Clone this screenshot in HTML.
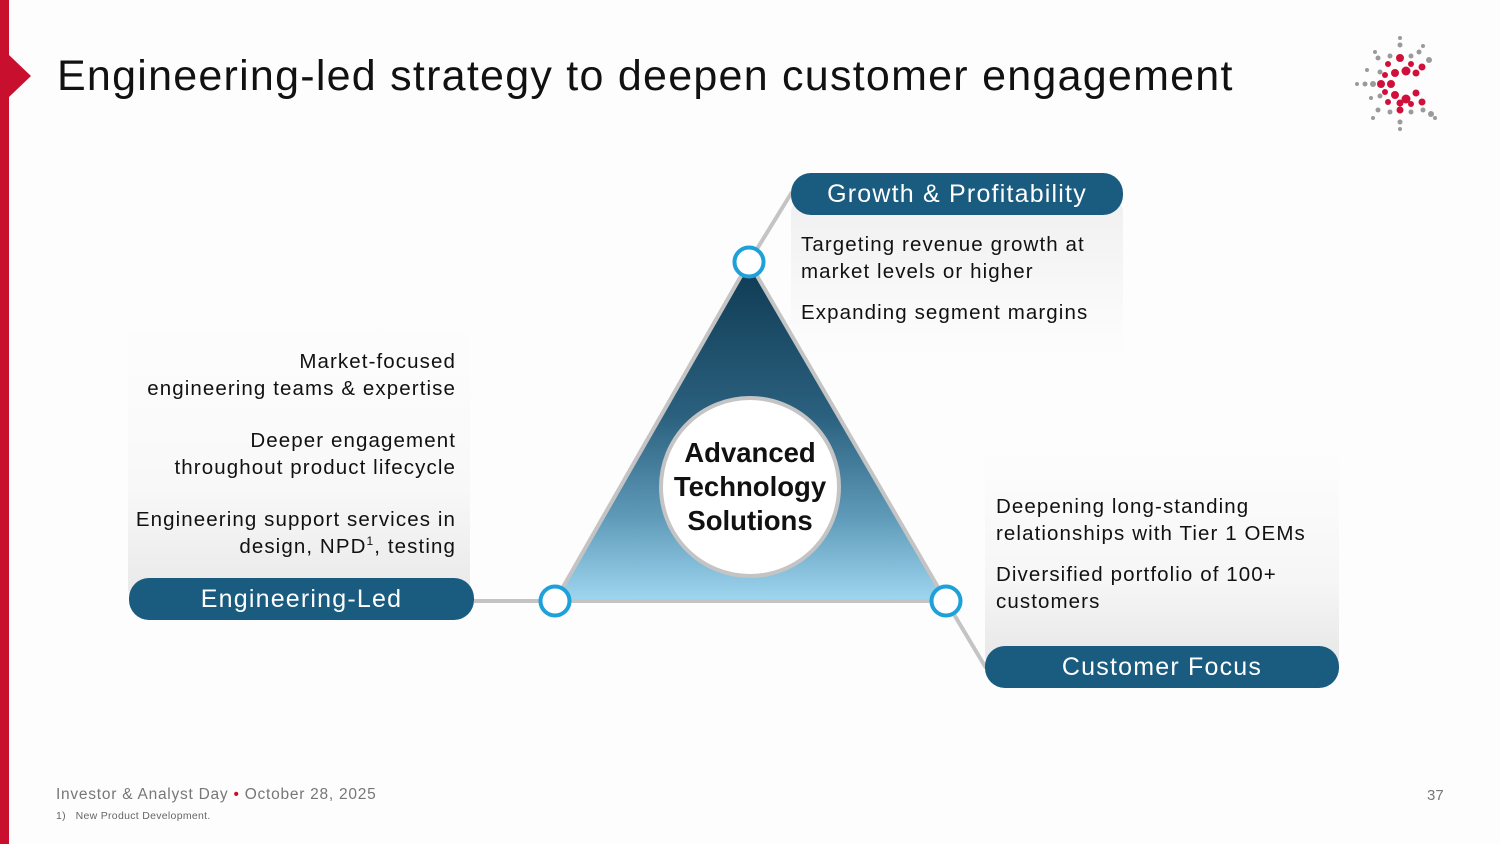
<!DOCTYPE html>
<html><head><meta charset="utf-8"><style>
body{margin:0;width:1500px;height:844px;background:#fdfdfd;overflow:hidden;position:relative;font-family:"Liberation Sans",sans-serif;}
.abs{position:absolute;}
.pill{position:absolute;background:#1a5b80;color:#fff;border-radius:20px;font-size:25px;text-align:center;line-height:42px;height:42px;letter-spacing:1.2px;}
.txt{position:absolute;font-size:20.5px;color:#111;line-height:27px;letter-spacing:1.1px;}
</style></head><body>
<div class="abs" style="left:0;top:0;width:9px;height:844px;background:#c8102e"></div>
<div class="abs" style="left:9px;top:55px;width:0;height:0;border-top:21px solid transparent;border-bottom:21px solid transparent;border-left:22px solid #c8102e"></div>
<div class="abs" style="left:57px;top:52px;font-size:43px;color:#111;letter-spacing:1.25px">Engineering-led strategy to deepen customer engagement</div>

<svg class="abs" style="left:1345px;top:30px" width="100" height="110" viewBox="0 0 100 110">
<g fill="#9a9a9a">
<circle cx="55" cy="8" r="2"/><circle cx="55" cy="15" r="2.5"/><circle cx="55" cy="92" r="2.5"/><circle cx="55" cy="99" r="2"/>
<circle cx="12" cy="54" r="2"/><circle cx="20" cy="54" r="2.5"/><circle cx="28" cy="54" r="3"/>
<circle cx="30" cy="22" r="2"/><circle cx="33" cy="28" r="2.5"/><circle cx="78" cy="16" r="2"/><circle cx="74" cy="22" r="2.5"/>
<circle cx="84" cy="30" r="3"/><circle cx="86" cy="84" r="3"/><circle cx="78" cy="80" r="2.5"/><circle cx="33" cy="80" r="2.5"/>
<circle cx="28" cy="88" r="2"/><circle cx="22" cy="40" r="2"/><circle cx="26" cy="68" r="2"/><circle cx="35" cy="66" r="2.5"/><circle cx="35" cy="42" r="2.5"/>
<circle cx="45" cy="26" r="2.5"/><circle cx="45" cy="82" r="2.5"/><circle cx="66" cy="82" r="2.5"/><circle cx="66" cy="26" r="2.5"/><circle cx="90" cy="88" r="2"/>
</g>
<g fill="#d0103a">
<circle cx="55" cy="28" r="4"/><circle cx="43" cy="34" r="3"/><circle cx="66" cy="34" r="3"/><circle cx="77" cy="37" r="3.5"/>
<circle cx="50" cy="43" r="4"/><circle cx="61" cy="41" r="4.5"/><circle cx="71" cy="43" r="3.5"/><circle cx="40" cy="45" r="3"/>
<circle cx="36" cy="54" r="4"/><circle cx="46" cy="54" r="4"/>
<circle cx="40" cy="62" r="3"/><circle cx="50" cy="65" r="4"/><circle cx="71" cy="63" r="3.5"/><circle cx="43" cy="72" r="3"/>
<circle cx="55" cy="73" r="3.5"/><circle cx="61" cy="69" r="4.5"/><circle cx="66" cy="74" r="3"/><circle cx="77" cy="72" r="3.5"/><circle cx="55" cy="80" r="3.5"/>
</g></svg>

<div class="abs" style="left:128px;top:322px;width:342px;height:278px;border-radius:12px;background:linear-gradient(#fdfdfd,#f8f8f8 60%,#e8e8e8)"></div>
<div class="abs" style="left:791px;top:200px;width:332px;height:160px;border-radius:12px;background:linear-gradient(#f0f0f0,#fbfbfb 80%,#fdfdfd)"></div>
<div class="abs" style="left:985px;top:450px;width:354px;height:218px;border-radius:12px;background:linear-gradient(#fdfdfd,#f6f6f6 60%,#e6e6e6)"></div>

<svg class="abs" style="left:0;top:0" width="1500" height="844">
<defs><linearGradient id="g" x1="0" y1="0" x2="0" y2="1">
<stop offset="0" stop-color="#0f3a52"/><stop offset="0.45" stop-color="#2a607e"/><stop offset="0.75" stop-color="#5e9ab8"/><stop offset="1" stop-color="#9fd6f0"/></linearGradient></defs>
<line x1="749" y1="262" x2="792" y2="192" stroke="#c4c4c4" stroke-width="4"/>
<line x1="474" y1="601" x2="555" y2="601" stroke="#c4c4c4" stroke-width="4"/>
<line x1="946" y1="601" x2="986" y2="668" stroke="#c4c4c4" stroke-width="4"/>
<polygon points="749,262 555,601 946,601" fill="url(#g)" stroke="#c4c4c4" stroke-width="4"/>
<circle cx="750" cy="487" r="89" fill="#fff" stroke="#c4c4c4" stroke-width="4"/>
<g fill="#fff" stroke="#1ea0d8" stroke-width="4">
<circle cx="749" cy="262" r="14.5"/><circle cx="555" cy="601" r="14.5"/><circle cx="946" cy="601" r="14.5"/></g>
</svg>
<div class="abs" style="left:650px;top:436px;width:200px;text-align:center;font-size:27.5px;font-weight:bold;line-height:34px;color:#111">Advanced<br>Technology<br>Solutions</div>

<div class="pill" style="left:791px;top:173px;width:332px">Growth &amp; Profitability</div>
<div class="pill" style="left:129px;top:578px;width:345px">Engineering-Led</div>
<div class="pill" style="left:985px;top:646px;width:354px">Customer Focus</div>

<div class="txt" style="left:801px;top:231px">Targeting revenue growth at<br>market levels or higher</div>
<div class="txt" style="left:801px;top:299px">Expanding segment margins</div>

<div class="txt" style="left:120px;top:348px;width:336px;text-align:right">Market-focused<br>engineering teams &amp; expertise</div>
<div class="txt" style="left:120px;top:427px;width:336px;text-align:right">Deeper engagement<br>throughout product lifecycle</div>
<div class="txt" style="left:120px;top:506px;width:336px;text-align:right">Engineering support services in<br>design, NPD<sup style="font-size:12px;line-height:0">1</sup>, testing</div>

<div class="txt" style="left:996px;top:493px">Deepening long-standing<br>relationships with Tier 1 OEMs</div>
<div class="txt" style="left:996px;top:561px">Diversified portfolio of 100+<br>customers</div>

<div class="abs" style="left:56px;top:786px;font-size:15.5px;color:#777;letter-spacing:0.75px">Investor &amp; Analyst Day <span style="color:#c8102e">•</span> October 28, 2025</div>
<div class="abs" style="left:56px;top:810px;font-size:10.5px;color:#666;letter-spacing:0.3px">1)&nbsp;&nbsp; New Product Development.</div>
<div class="abs" style="left:1427px;top:787px;font-size:15px;color:#777">37</div>
</body></html>
